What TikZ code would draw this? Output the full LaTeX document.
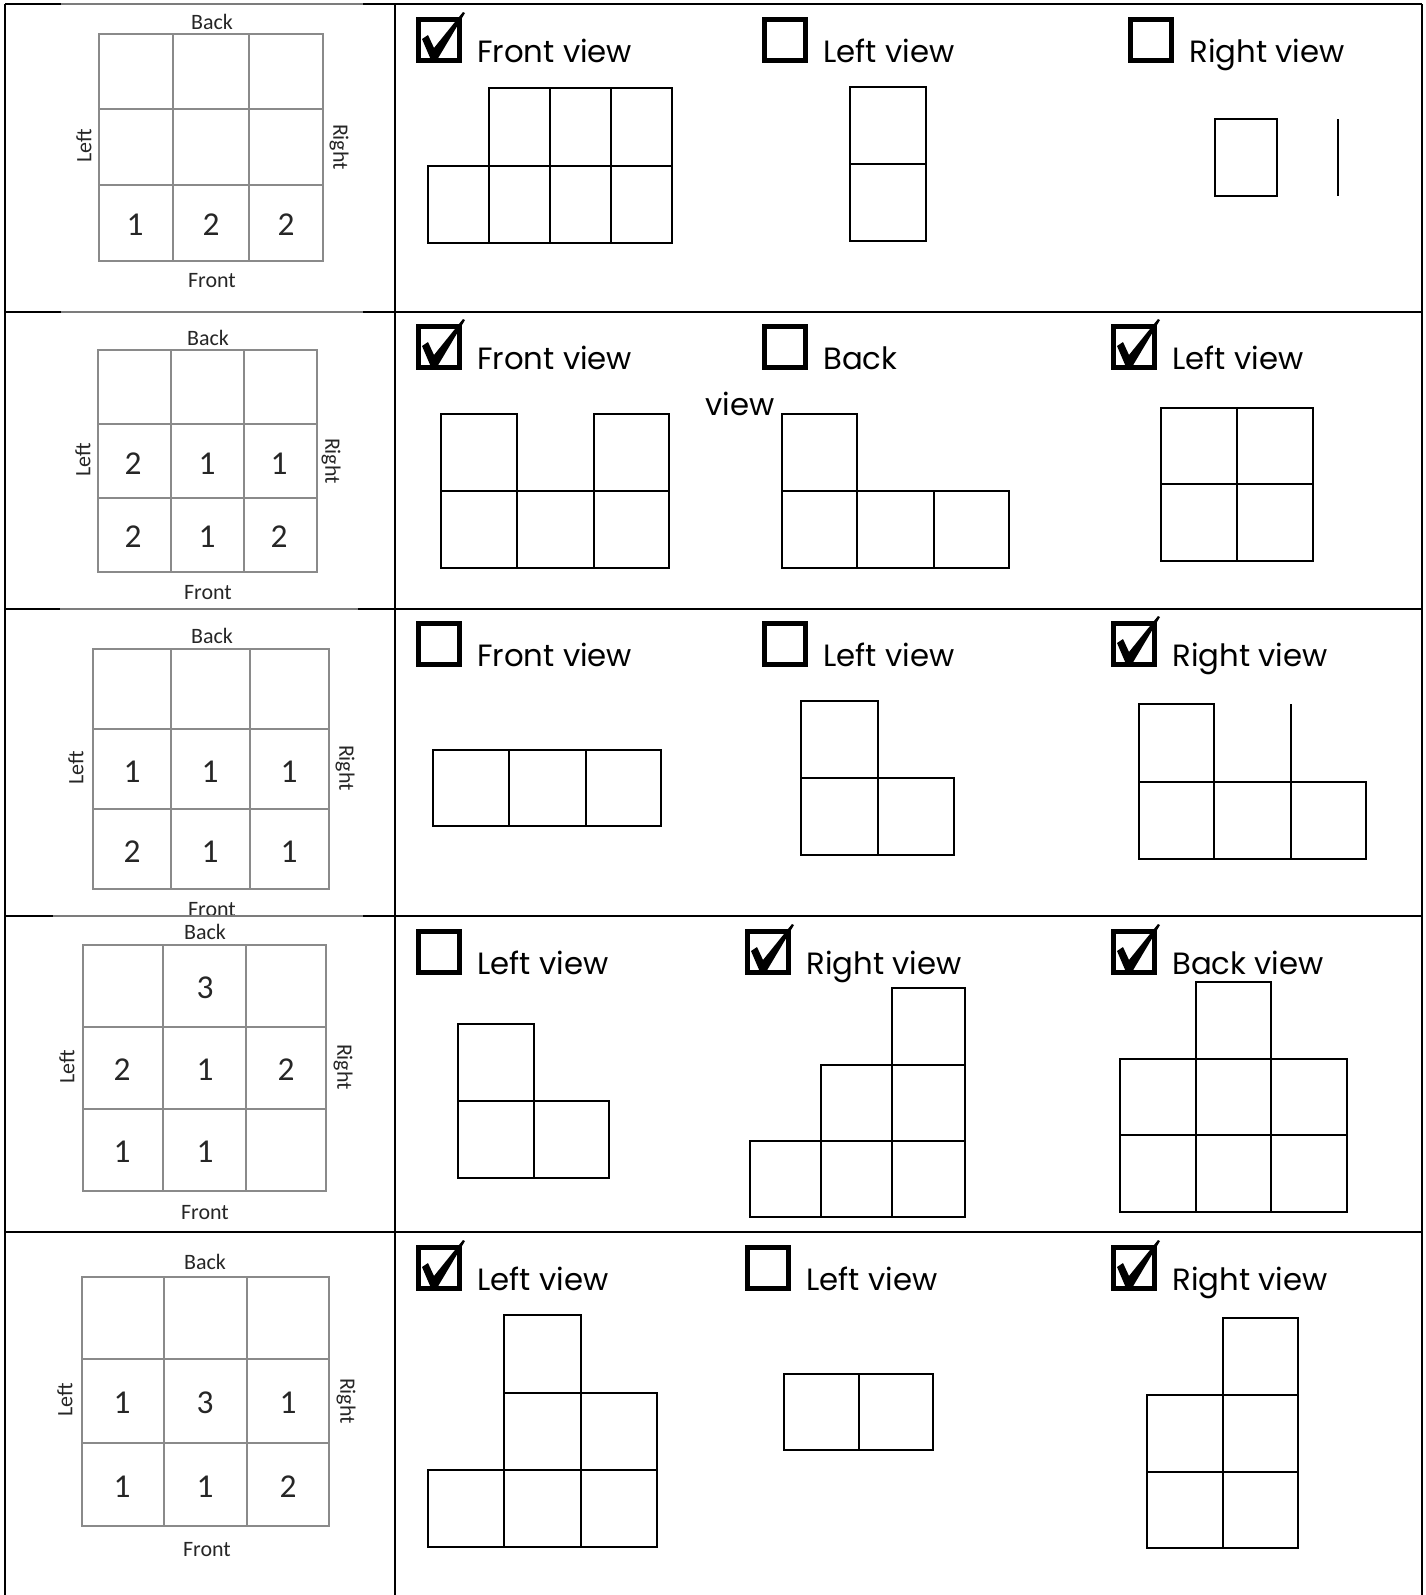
\documentclass[tikz,border=0pt]{standalone}
\usepackage{fontspec}
\usepackage{tikz}
\newfontfamily\gothic{Poppins}
\newfontfamily\calibri{Carlito}
\definecolor{GridGray}{HTML}{8A8A8A}
\definecolor{SeamGray}{HTML}{7C7C7C}
\definecolor{LabelInk}{HTML}{262626}

\begin{document}
\begin{tikzpicture}[
  x=0.2mm, y=-0.2mm,
  frame/.style={line width=1.5pt,black},
  seam/.style={line width=1pt,SeamGray},
  grid3/.style={line width=0.8pt,GridGray},
  side/.style={font=\calibri\fontsize{12.5}{14}\selectfont,text=LabelInk,inner sep=0pt},
  num/.style={font=\calibri\fontsize{19}{22}\selectfont,text=LabelInk,inner sep=0pt},
  view/.style={line width=1.2pt,black},
  cbox/.style={draw,line width=2.8pt,minimum size=8.2mm,inner sep=0pt},
  lbl/.style={font=\gothic\fontsize{17.5}{20}\selectfont,anchor=base west,inner sep=0pt},
  tick/.pic={\fill (-17,-1) -- (-11,-5) -- (-5,8) -- (24,-28) -- (26,-27) -- (-2,20) -- (-8,20) -- cycle;}
]
  \useasboundingbox (0,0) rectangle (1426,1595);

  % row 1: top views
  \draw[grid3] (99,34) rectangle (323,261) (173,34) -- (173,261) (249,34) -- (249,261)
    (99,109) -- (323,109) (99,185) -- (323,185);
  \node[side] (b1) at (212,22) {Back};
  \node[side] (f1) at (212,281) {Front};
  \node[side,rotate=90] (l1) at (84,146) {Left};
  \node[side,rotate=-90] (r1) at (339,147) {Right};
  \node[num] (n1g) at (135,225) {1};
  \node[num] (n1h) at (211,225) {2};
  \node[num] (n1i) at (286,225) {2};

  % row 2
  \draw[grid3] (98,350) rectangle (317,572) (171,350) -- (171,572) (244,350) -- (244,572)
    (98,424) -- (317,424) (98,498) -- (317,498);
  \node[side] (b2) at (208,338) {Back};
  \node[side] (f2) at (208,593) {Front};
  \node[side,rotate=90] (l2) at (83,460) {Left};
  \node[side,rotate=-90] (r2) at (331,461) {Right};
  \node[num] (n2d) at (133,464) {2};
  \node[num] (n2e) at (207,464) {1};
  \node[num] (n2f) at (279,464) {1};
  \node[num] (n2g) at (133,537) {2};
  \node[num] (n2h) at (207,537) {1};
  \node[num] (n2i) at (279,537) {2};

  % row 3
  \draw[grid3] (93,649) rectangle (329,889) (171,649) -- (171,889) (250,649) -- (250,889)
    (93,729) -- (329,729) (93,809) -- (329,809);
  \node[side] (b3) at (212,636) {Back};
  \node[side] (f3) at (212,910) {Front};
  \node[side,rotate=90] (l3) at (76,768) {Left};
  \node[side,rotate=-90] (r3) at (345,768) {Right};
  \node[num] (n3d) at (132,772) {1};
  \node[num] (n3e) at (210,772) {1};
  \node[num] (n3f) at (289,772) {1};
  \node[num] (n3g) at (132,852) {2};
  \node[num] (n3h) at (210,852) {1};
  \node[num] (n3i) at (289,852) {1};

  % row 4
  \draw[grid3] (83,945) rectangle (326,1191) (163,945) -- (163,1191) (246,945) -- (246,1191)
    (83,1027) -- (326,1027) (83,1109) -- (326,1109);
  \node[side] (b4) at (205,932) {Back};
  \node[side] (f4) at (205,1213) {Front};
  \node[side,rotate=90] (l4) at (67,1067) {Left};
  \node[side,rotate=-90] (r4) at (343,1067) {Right};
  \node[num] (n4b) at (205,988) {3};
  \node[num] (n4d) at (122,1070) {2};
  \node[num] (n4e) at (205,1070) {1};
  \node[num] (n4f) at (286,1070) {2};
  \node[num] (n4g) at (122,1152) {1};
  \node[num] (n4h) at (205,1152) {1};

  % row 5
  \draw[grid3] (82,1277) rectangle (329,1526) (164,1277) -- (164,1526) (247,1277) -- (247,1526)
    (82,1359) -- (329,1359) (82,1443) -- (329,1443);
  \node[side] (b5) at (205,1262) {Back};
  \node[side] (f5) at (207,1550) {Front};
  \node[side,rotate=90] (l5) at (65,1400) {Left};
  \node[side,rotate=-90] (r5) at (346,1401) {Right};
  \node[num] (n5d) at (122,1403) {1};
  \node[num] (n5e) at (205,1403) {3};
  \node[num] (n5f) at (288,1403) {1};
  \node[num] (n5g) at (122,1487) {1};
  \node[num] (n5h) at (205,1487) {1};
  \node[num] (n5i) at (288,1487) {2};

  % check boxes and captions
  \node[cbox] (c1a) at (439,40) {};
  \node[cbox] (c1b) at (785,40) {};
  \node[cbox] (c1c) at (1151,40) {};
  \pic at (c1a) {tick};
  \node[lbl] (t1a) at ([xshift=3mm]c1a.south east) {Front view};
  \node[lbl] (t1b) at ([xshift=3mm]c1b.south east) {Left view};
  \node[lbl] (t1c) at ([xshift=3mm]c1c.south east) {Right view};

  \node[cbox] (c2a) at (439,347) {};
  \node[cbox] (c2b) at (785,347) {};
  \node[cbox] (c2c) at (1134,347) {};
  \pic at (c2a) {tick};
  \pic at (c2c) {tick};
  \node[lbl] (t2a) at ([xshift=3mm]c2a.south east) {Front view};
  \node[lbl] (t2b) at ([xshift=3mm]c2b.south east) {Back};
  \node[lbl] (t2v) at (705,415) {view};
  \node[lbl] (t2c) at ([xshift=3mm]c2c.south east) {Left view};

  \node[cbox] (c3a) at (439,644) {};
  \node[cbox] (c3b) at (785,644) {};
  \node[cbox] (c3c) at (1134,644) {};
  \pic at (c3c) {tick};
  \node[lbl] (t3a) at ([xshift=3mm]c3a.south east) {Front view};
  \node[lbl] (t3b) at ([xshift=3mm]c3b.south east) {Left view};
  \node[lbl] (t3c) at ([xshift=3mm]c3c.south east) {Right view};

  \node[cbox] (c4a) at (439,952) {};
  \node[cbox] (c4b) at (768,952) {};
  \node[cbox] (c4c) at (1134,952) {};
  \pic at (c4b) {tick};
  \pic at (c4c) {tick};
  \node[lbl] (t4a) at ([xshift=3mm]c4a.south east) {Left view};
  \node[lbl] (t4b) at ([xshift=3mm]c4b.south east) {Right view};
  \node[lbl] (t4c) at ([xshift=3mm]c4c.south east) {Back view};

  \node[cbox] (c5a) at (439,1268) {};
  \node[cbox] (c5b) at (768,1268) {};
  \node[cbox] (c5c) at (1134,1268) {};
  \pic at (c5a) {tick};
  \pic at (c5c) {tick};
  \node[lbl] (t5a) at ([xshift=3mm]c5a.south east) {Left view};
  \node[lbl] (t5b) at ([xshift=3mm]c5b.south east) {Left view};
  \node[lbl] (t5c) at ([xshift=3mm]c5c.south east) {Right view};

  % views, row 1
  \draw[view] (428,166) rectangle (489,243) (489,166) rectangle (550,243)
    (550,166) rectangle (611,243) (611,166) rectangle (672,243)
    (489,88) rectangle (550,166) (550,88) rectangle (611,166) (611,88) rectangle (672,166);
  \draw[view] (850,87) rectangle (926,164) (850,164) rectangle (926,241);
  \draw[view] (1215,119) rectangle (1277,196);
  \draw[view,line width=0.9pt] (1338,119) -- (1338,196);

  % views, row 2
  \draw[view] (441,414) rectangle (517,491) (594,414) rectangle (669,491)
    (441,491) rectangle (517,568) (517,491) rectangle (594,568) (594,491) rectangle (669,568);
  \draw[view] (782,414) rectangle (857,491)
    (782,491) rectangle (857,568) (857,491) rectangle (934,568) (934,491) rectangle (1009,568);
  \draw[view] (1161,408) rectangle (1237,484) (1237,408) rectangle (1313,484)
    (1161,484) rectangle (1237,561) (1237,484) rectangle (1313,561);

  % views, row 3
  \draw[view] (433,750) rectangle (509,826) (509,750) rectangle (586,826) (586,750) rectangle (661,826);
  \draw[view] (801,701) rectangle (878,778) (801,778) rectangle (878,855) (878,778) rectangle (954,855);
  \draw[view] (1139,704) rectangle (1214,782)
    (1139,782) rectangle (1214,859) (1214,782) rectangle (1291,859) (1291,782) rectangle (1366,859);
  \draw[view,line width=0.9pt] (1291,704) -- (1291,782);

  % views, row 4
  \draw[view] (458,1024) rectangle (534,1101) (458,1101) rectangle (534,1178) (534,1101) rectangle (609,1178);
  \draw[view] (892,988) rectangle (965,1065)
    (821,1065) rectangle (892,1141) (892,1065) rectangle (965,1141)
    (750,1141) rectangle (821,1217) (821,1141) rectangle (892,1217) (892,1141) rectangle (965,1217);
  \draw[view] (1196,982) rectangle (1271,1059)
    (1120,1059) rectangle (1196,1135) (1196,1059) rectangle (1271,1135) (1271,1059) rectangle (1347,1135)
    (1120,1135) rectangle (1196,1212) (1196,1135) rectangle (1271,1212) (1271,1135) rectangle (1347,1212);

  % views, row 5
  \draw[view] (504,1315) rectangle (581,1393)
    (504,1393) rectangle (581,1470) (581,1393) rectangle (657,1470)
    (428,1470) rectangle (504,1547) (504,1470) rectangle (581,1547) (581,1470) rectangle (657,1547);
  \draw[view] (784,1374) rectangle (859,1450) (859,1374) rectangle (933,1450);
  \draw[view] (1223,1318) rectangle (1298,1395)
    (1147,1395) rectangle (1223,1472) (1223,1395) rectangle (1298,1472)
    (1147,1472) rectangle (1223,1548) (1223,1472) rectangle (1298,1548);

  % table rules
  \draw[frame] (5,4) -- (5,1595) (395,4) -- (395,1595) (1422,4) -- (1422,1595);
  \draw[frame] (5,4) -- (61,4) (363,4) -- (1422,4);
  \draw[frame] (5,312) -- (61,312) (363,312) -- (1422,312);
  \draw[frame] (5,609) -- (60,609) (358,609) -- (1422,609);
  \draw[frame] (5,916) -- (53,916) (363,916) -- (1422,916);
  \draw[frame] (5,1232) -- (1422,1232);
  \draw[seam] (61,4) -- (363,4) (61,312) -- (363,312) (60,609) -- (358,609) (53,916) -- (363,916);
\end{tikzpicture}
\end{document}
